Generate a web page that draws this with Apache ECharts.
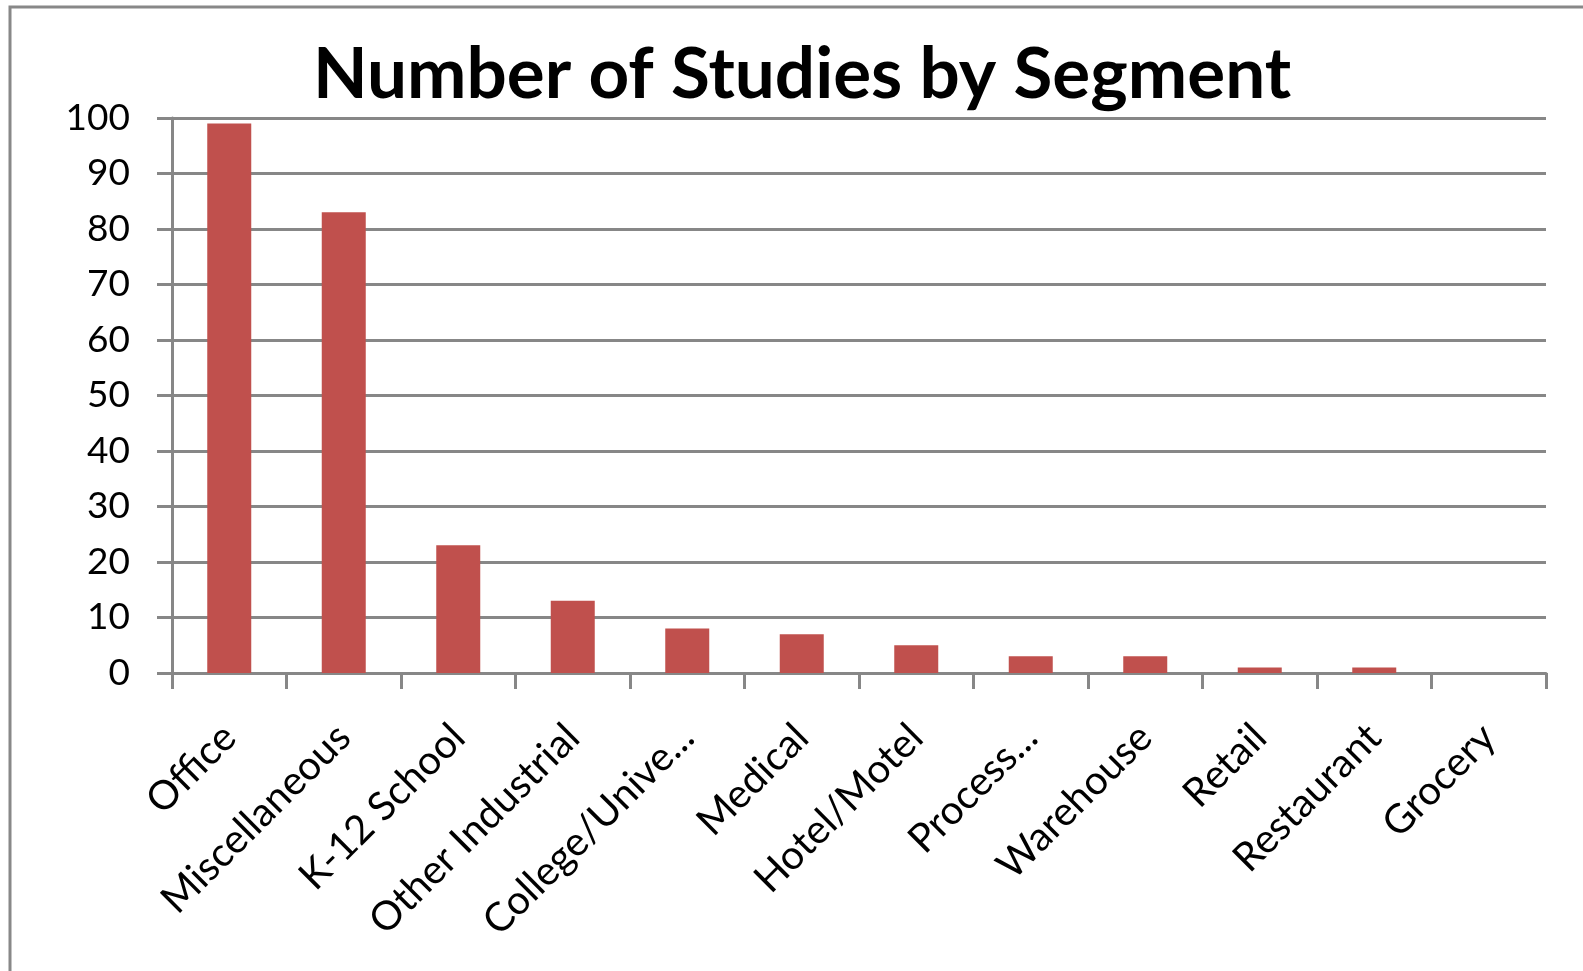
<!DOCTYPE html>
<html>
<head>
<meta charset="utf-8">
<style>
  html, body { margin: 0; padding: 0; background: #fff; }
  #chart { width: 1583px; height: 971px; }
</style>
<script src="https://cdn.jsdelivr.net/npm/echarts@6/dist/echarts.min.js"></script>
</head>
<body>
<div id="chart"></div>
<script>
// Segment names along the x axis
const segments = [
  'Office', 'Miscellaneous', 'K-12 School', 'Other Industrial',
  'College/Unive...', 'Medical', 'Hotel/Motel', 'Process...',
  'Warehouse', 'Retail', 'Restaurant', 'Grocery'
];
// Number of studies in each segment
const studies = [99, 83, 23, 13, 8, 7, 5, 3, 3, 1, 1, 0];
// Value axis range
const yMin = 0;
const yMax = 100;
const yStep = 10;

const titleText = 'Number of Studies by Segment';
const FONT = 'Lato, "Open Sans", sans-serif';
const GRID_GRAY = '#878787';

const chart = echarts.init(document.getElementById('chart'), null, { renderer: 'canvas' });

chart.setOption({
  backgroundColor: '#ffffff',
  animation: false,
  title: {
    text: titleText,
    left: 797,
    textAlign: 'center',
    top: 35,
    textStyle: { fontFamily: FONT, fontWeight: 'bold', fontSize: 71, color: '#000' }
  },
  graphic: [{
    type: 'rect',
    shape: { x: 10, y: 7, width: 1640, height: 1040 },
    style: { fill: 'none', stroke: '#888', lineWidth: 3 },
    silent: true
  }],
  grid: { left: 172, top: 118, width: 1374, height: 555 },
  xAxis: {
    type: 'category',
    data: segments,
    boundaryGap: true,
    axisLine: { show: true, lineStyle: { color: GRID_GRAY, width: 3 } },
    axisTick: { show: true, interval: 0, length: 16, lineStyle: { color: GRID_GRAY, width: 3 } },
    axisLabel: {
      interval: 0, rotate: 45, margin: 58,
      fontFamily: FONT, fontSize: 40, color: '#000'
    }
  },
  yAxis: {
    type: 'value',
    min: yMin, max: yMax, interval: yStep,
    axisLine: { show: true, lineStyle: { color: GRID_GRAY, width: 3 } },
    axisTick: { show: true, length: 15, lineStyle: { color: GRID_GRAY, width: 3 } },
    axisLabel: { margin: 42, fontFamily: FONT, fontSize: 37, color: '#000' },
    splitLine: { show: true, lineStyle: { color: GRID_GRAY, width: 3 } }
  },
  series: [{
    type: 'bar',
    data: studies,
    barWidth: 44,
    itemStyle: { color: '#C0504D' }
  }]
});
</script>
</body>
</html>
